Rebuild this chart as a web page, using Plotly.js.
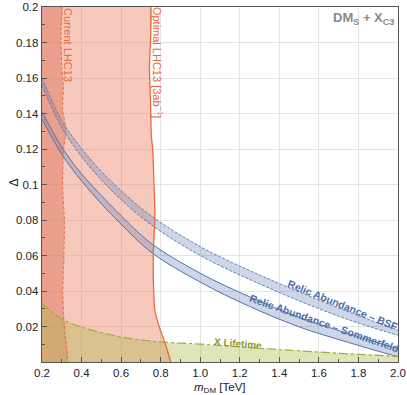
<!DOCTYPE html>
<html>
<head>
<meta charset="utf-8">
<script src="https://cdn.plot.ly/plotly-3.0.1.min.js"></script>
<style>
  html, body { margin: 0; padding: 0; background: #fff; }
  #chart { width: 407px; height: 395px; }
</style>
</head>
<body>
<div id="chart"></div>
<script>
// collider reach: boundary of excluded region, read top to bottom
const currentY = [0.2, 0.185, 0.166, 0.155, 0.142, 0.131, 0.119, 0.108, 0.097, 0.080, 0.0575, 0.039, 0.024, 0.0124, 0];
const currentX = [0.300, 0.296, 0.300, 0.308, 0.304, 0.321, 0.308, 0.305, 0.305, 0.313, 0.310, 0.305, 0.311, 0.320, 0.330];

const optimalY = [0.2, 0.185, 0.166, 0.149, 0.127, 0.1194, 0.101, 0.0817, 0.063, 0.046, 0.029, 0.0197, 0.0107, 0];
const optimalX = [0.750, 0.750, 0.743, 0.748, 0.753, 0.760, 0.766, 0.771, 0.763, 0.763, 0.771, 0.793, 0.822, 0.851];

// X lifetime bound
const lifeX = [0.2, 0.3, 0.4, 0.6, 0.8, 1.0, 1.2, 1.4, 1.6, 1.8, 2.0];
const lifeY = [0.0332, 0.0242, 0.0197, 0.0141, 0.0113, 0.0101, 0.0085, 0.0070, 0.0056, 0.0043, 0.0032];

// relic abundance bands
const relicX = [0.2, 0.3, 0.4, 0.5, 0.6, 0.75, 1.0, 1.25, 1.5, 1.75, 2.0];
const bsfUp = [0.160, 0.136, 0.1203, 0.1074, 0.0965, 0.0825, 0.065, 0.0515, 0.0395, 0.0282, 0.018];
const bsfLo = [0.156, 0.132, 0.1157, 0.1026, 0.0915, 0.0775, 0.060, 0.0465, 0.0345, 0.0238, 0.0150];
const somUp = [0.141, 0.121, 0.106, 0.0938, 0.0824, 0.067, 0.050, 0.0367, 0.0252, 0.0160, 0.0075];
const somLo = [0.137, 0.117, 0.102, 0.0892, 0.0776, 0.062, 0.045, 0.0313, 0.0198, 0.0110, 0.0029];

const xTicks = [0.2, 0.4, 0.6, 0.8, 1.0, 1.2, 1.4, 1.6, 1.8, 2.0];
const yTicks = [0.02, 0.04, 0.06, 0.08, 0.1, 0.12, 0.14, 0.16, 0.18, 0.2];
const yTickText = ["0.02", "0.04", "0.06", "0.08", "0.1", "0.12", "0.14", "0.16", "0.18", "0.2"];

const salmon = "#ea6a3f";
const blueLine = "#5272aa";
const bandFill = "rgba(100,130,185,0.32)";

function region(xs, ys, color){
  // close the boundary against the left edge of the plot
  return {
    x: [0.2].concat(xs, [0.2]),
    y: [0.2].concat(ys, [0]),
    type: "scatter", mode: "lines", fill: "toself",
    fillcolor: color, line: { width: 0, shape: "spline", smoothing: 0.6 },
    hoverinfo: "skip", showlegend: false
  };
}

function edge(xs, ys, color, dash, width, fill){
  return {
    x: xs, y: ys, type: "scatter", mode: "lines",
    line: { color, dash, width, shape: "spline", smoothing: 1 },
    fill: fill || "none", fillcolor: bandFill,
    hoverinfo: "skip", showlegend: false
  };
}

const traces = [
  region(optimalX, optimalY, "rgba(235,120,90,0.4)"),
  region(currentX, currentY, "rgba(215,100,70,0.4)"),
  {
    x: lifeX.concat([2.0, 0.2]),
    y: lifeY.concat([0, 0]),
    type: "scatter", mode: "lines", fill: "toself",
    fillcolor: "rgba(170,185,70,0.38)", line: { width: 0 },
    hoverinfo: "skip", showlegend: false
  },
  edge(relicX, bsfLo, blueLine, "3px,1.5px", 0.9),
  edge(relicX, bsfUp, blueLine, "3px,1.5px", 0.9, "tonexty"),
  edge(relicX, somLo, blueLine, "solid", 1),
  edge(relicX, somUp, blueLine, "solid", 1, "tonexty"),
  {
    x: optimalX, y: optimalY, type: "scatter", mode: "lines",
    line: { color: salmon, width: 1.3, shape: "spline", smoothing: 0.6 },
    hoverinfo: "skip", showlegend: false
  },
  {
    x: currentX, y: currentY, type: "scatter", mode: "lines",
    line: { color: salmon, width: 1, dash: "3px,2px", shape: "spline", smoothing: 0.6 },
    hoverinfo: "skip", showlegend: false
  },
  {
    x: lifeX, y: lifeY, type: "scatter", mode: "lines",
    line: { color: "#a4a838", width: 1.2, dash: "dashdot", shape: "spline" },
    hoverinfo: "skip", showlegend: false
  }
];

const axisCommon = {
  showline: true, mirror: true, linecolor: "#555", linewidth: 1.3,
  ticks: "inside", ticklen: 5, tickcolor: "#555", tickwidth: 1,
  showgrid: true, gridcolor: "#e4e4e4", gridwidth: 1,
  zeroline: false,
  tickfont: { size: 11.5, color: "#222" }
};

const layout = {
  width: 407, height: 395,
  margin: { l: 42, r: 9, t: 7, b: 33 },
  font: { family: "Liberation Sans, Arial, sans-serif", color: "#222" },
  paper_bgcolor: "#fff", plot_bgcolor: "#fff",
  xaxis: Object.assign({}, axisCommon, {
    range: [0.2, 2.0], tickmode: "array", tickvals: xTicks, tickformat: ".1f",
    minor: { tick0: 0, dtick: 0.1, ticklen: 3, tickcolor: "#555", ticks: "inside", showgrid: false }
  }),
  yaxis: Object.assign({}, axisCommon, {
    range: [0, 0.2], tickmode: "array", tickvals: yTicks, ticktext: yTickText,
    minor: { tick0: 0, dtick: 0.01, ticklen: 3, tickcolor: "#555", ticks: "inside", showgrid: false }
  }),
  annotations: [
    { xref: "paper", yref: "paper", x: 0.5, y: 0, yshift: -17, yanchor: "top", showarrow: false,
      text: "<i>m</i><sub>DM</sub> [TeV]", font: { size: 11.5, color: "#222" } },
    { xref: "paper", yref: "paper", x: 0, xshift: -38, y: 0.5, yshift: 2, textangle: -90, showarrow: false,
      text: "Δ", font: { size: 12, color: "#222" } },
    { xref: "paper", yref: "paper", x: 1, xanchor: "right", xshift: -2, y: 1, yanchor: "top", yshift: -1,
      showarrow: false, text: "<b>DM<sub>S</sub> + X<sub>C3</sub></b>", font: { size: 13, color: "#8a8a8a" } },
    { x: 0.3315, y: 0.1786, textangle: 90, showarrow: false,
      text: "Current LHC13", font: { size: 11, color: "#e8663c" } },
    { x: 0.7865, y: 0.1685, textangle: 90, showarrow: false,
      text: "Optimal LHC13 [3ab<sup>−1</sup>]", font: { size: 11, color: "#e8663c" } },
    { x: 1.722, y: 0.032, textangle: 22, showarrow: false,
      text: "<b>Relic Abundance – BSF</b>", font: { size: 10.5, color: "#4e6ea8" } },
    { x: 1.626, y: 0.0222, textangle: 19, showarrow: false,
      text: "<b>Relic Abundance – Sommerfeld</b>", font: { size: 10.5, color: "#4e6ea8" } },
    { x: 1.191, y: 0.0107, textangle: 5, showarrow: false,
      text: "<b>X Lifetime</b>", font: { size: 10, color: "#8d9a1e" } }
  ]
};

Plotly.newPlot("chart", traces, layout, { displayModeBar: false, staticPlot: true });
</script>
</body>
</html>
